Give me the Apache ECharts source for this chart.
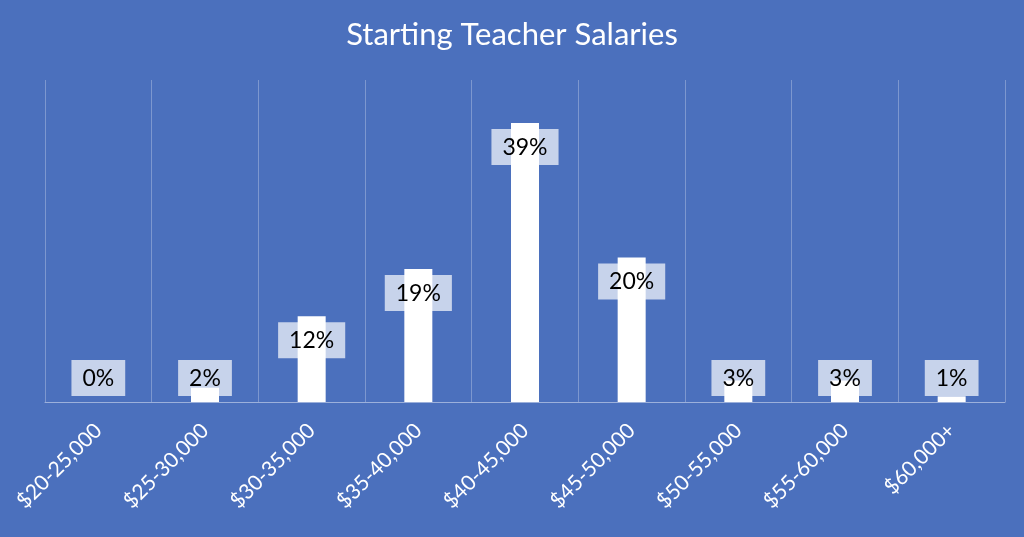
<!DOCTYPE html>
<html>
<head>
<meta charset="utf-8">
<script src="https://cdn.jsdelivr.net/npm/echarts@6/dist/echarts.min.js"></script>
<style>
html,body{margin:0;padding:0;background:#4B70BD;}
#c{width:1024px;height:537px;}
</style>
</head>
<body>
<div id="c"></div>
<script>
var categories = ['$20-25,000','$25-30,000','$30-35,000','$35-40,000','$40-45,000','$45-50,000','$50-55,000','$55-60,000','$60,000+'];
var values = [0, 2, 12, 18.6, 39, 20.2, 3, 3, 0.8];
var labels = ['0%','2%','12%','19%','39%','20%','3%','3%','1%'];

var FONT = 'Lato, "Open Sans", sans-serif';
var data = values.map(function(v, i){
  var small = v < 6;
  return {
    value: v,
    label: {
      position: small ? 'insideBottom' : 'insideTop',
      distance: 6,
      formatter: labels[i]
    }
  };
});

var chart = echarts.init(document.getElementById('c'));
chart.setOption({
  backgroundColor: '#4B70BD',
  animation: false,
  title: {
    text: 'Starting Teacher Salaries',
    left: 'center',
    top: 14,
    textStyle: {color: '#ffffff', fontSize: 31, fontWeight: 'normal', fontFamily: FONT}
  },
  grid: {left: 45, right: 19, top: 80, bottom: 135, containLabel: false},
  xAxis: {
    type: 'category',
    data: categories,
    boundaryGap: true,
    axisLine: {show: true, lineStyle: {color: 'rgba(255,255,255,0.45)', width: 1}},
    axisTick: {show: false},
    splitLine: {show: true, lineStyle: {color: 'rgba(255,255,255,0.28)', width: 1}},
    axisLabel: {color: '#ffffff', fontSize: 21, rotate: 45, margin: 25, fontFamily: FONT, interval: 0}
  },
  yAxis: {
    type: 'value',
    min: 0, max: 45,
    show: false,
    splitLine: {show: false}
  },
  series: [{
    type: 'bar',
    data: data,
    barWidth: 28,
    itemStyle: {color: '#ffffff'},
    label: {
      show: true,
      color: '#000000',
      fontSize: 23,
      fontFamily: FONT,
      backgroundColor: 'rgba(255,255,255,0.69)',
      padding: [7, 11, 6, 11]
    }
  }]
});
</script>
</body>
</html>
